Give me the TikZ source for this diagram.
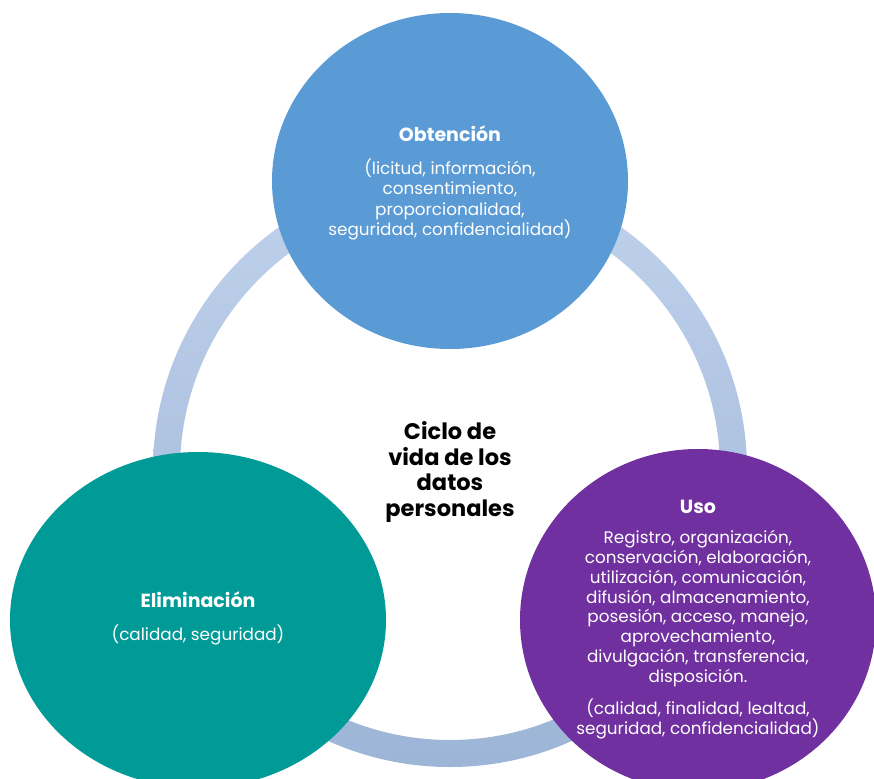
\documentclass[tikz,border=0pt]{standalone}
\usepackage{fontspec}
\setmainfont{Poppins}
\usetikzlibrary{shapes.geometric,positioning}

\definecolor{obtblue}{HTML}{5B9BD5}
\definecolor{elimteal}{HTML}{009A97}
\definecolor{usopurple}{HTML}{7030A0}
\definecolor{ringtop}{HTML}{BFD1EC}
\definecolor{ringbot}{HTML}{9DB5D6}

\begin{document}
\begin{tikzpicture}[x=1pt, y=-1pt,
        stage/.style={ellipse, inner sep=0pt, draw=none},
        stagetitle/.style={text=white, font=\bfseries\fontsize{19}{22}\selectfont},
        stagetext/.style={text=white, align=center, inner sep=0pt,
                font=\fontsize{16.8}{19.8}\selectfont},
        cycletitle/.style={text=black, align=center,
                font=\bfseries\fontsize{22.5}{25.5}\selectfont}]
        \useasboundingbox (0,0) rectangle (874,778);

        % ring behind the stages
        \shade[even odd rule, top color=ringtop, bottom color=ringbot]
                (450,470) circle (297pt) (450,470) circle (270pt);

        \node[stage, fill=obtblue, minimum width=356pt, minimum height=336pt] (obt) at (450,181) {};
        \node[stage, fill=elimteal, minimum width=376pt, minimum height=336pt] (elim) at (198,620) {};
        \node[stage, fill=usopurple, minimum width=356pt, minimum height=342pt] (uso) at (698,620) {};

        \node[cycletitle] (ciclo) at (450,472) {Ciclo de\\vida de los\\datos\\personales};

        \node[stagetitle] (obtT) at (450,134) {Obtención};
        \node[stagetext, below=13pt of obtT, font=\fontsize{16.8}{20.3}\selectfont] (obtD) {(licitud, información,\\consentimiento,\\proporcionalidad,\\seguridad, confidencialidad)};

        \node[stagetitle] (usoT) at (698,507) {Uso};
        \node[stagetext, below=13pt of usoT] (usoD) {Registro, organización,\\conservación, elaboración,\\utilización, comunicación,\\difusión, almacenamiento,\\posesión, acceso, manejo,\\aprovechamiento,\\divulgación, transferencia,\\disposición.};
        \node[stagetext, below=12pt of usoD] (usoP) {(calidad, finalidad, lealtad,\\seguridad, confidencialidad)};

        \node[stagetitle] (elimT) at (198,600) {Eliminación};
        \node[stagetext, below=13pt of elimT] (elimD) {(calidad, seguridad)};
\end{tikzpicture}
\end{document}
